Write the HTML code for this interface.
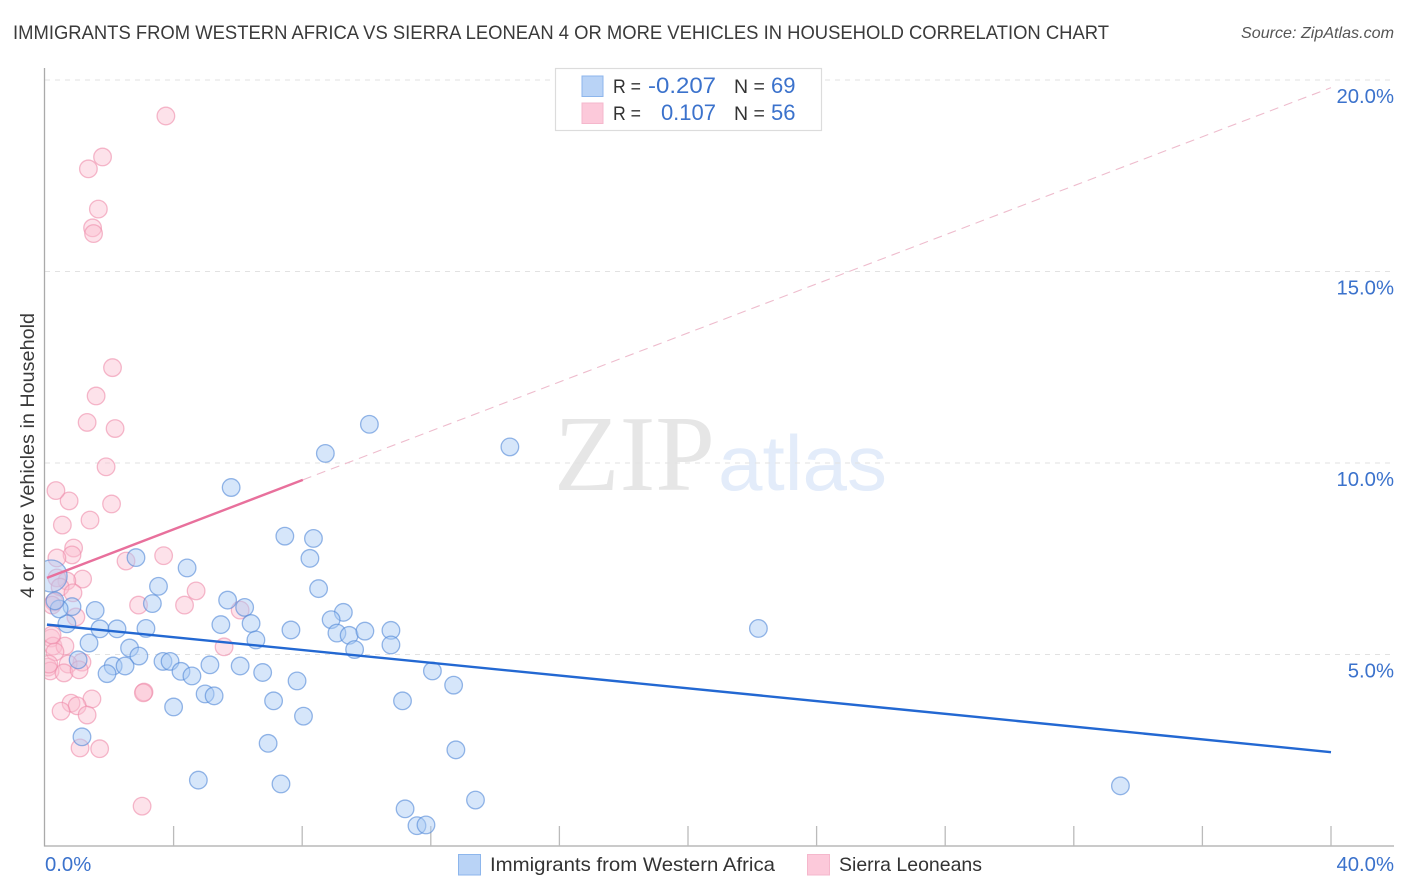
<!DOCTYPE html>
<html lang="en">
<head>
<meta charset="utf-8">
<title>Immigrants from Western Africa vs Sierra Leonean correlation chart</title>
<style>
html,body{margin:0;padding:0;background:#fff;}
svg{display:block;font-family:"Liberation Sans",sans-serif;}
</style>
</head>
<body>
<svg id="chart" xmlns="http://www.w3.org/2000/svg" width="1406" height="892" viewBox="0 0 1406 892">
  <defs>
    <clipPath id="plot-clip"><rect x="45" y="60" width="1349" height="786"/></clipPath>
  </defs>
  <rect x="0" y="0" width="1406" height="892" fill="#ffffff"/>
  <text x="13" y="39" font-size="19.6" fill="#3a3a3a" textLength="1096" lengthAdjust="spacingAndGlyphs">IMMIGRANTS FROM WESTERN AFRICA VS SIERRA LEONEAN 4 OR MORE VEHICLES IN HOUSEHOLD CORRELATION CHART</text>
  <text x="1241" y="38" font-size="16" font-style="italic" fill="#555" textLength="153" lengthAdjust="spacingAndGlyphs">Source: ZipAtlas.com</text>
  <g>
    <text x="554" y="490" font-family="'Liberation Serif',serif" font-size="108" fill="#e6e6e6" textLength="161" lengthAdjust="spacingAndGlyphs">ZIP</text>
    <text x="718" y="490" font-size="78" fill="#e3ecfa" textLength="169" lengthAdjust="spacingAndGlyphs">atlas</text>
  </g>
  <g id="grid"></g>
  <g id="axes"></g>
  <g id="marks" clip-path="url(#plot-clip)"></g>
  <g id="trends"></g>
  <g id="labels"></g>
  <text transform="translate(34,455.5) rotate(-90)" font-size="19.8" fill="#3a3a3a" text-anchor="middle" textLength="285" lengthAdjust="spacingAndGlyphs">4 or more Vehicles in Household</text>
  <g>
    <rect x="555.5" y="68.5" width="266" height="62" fill="#fff" stroke="#dcdcdc" stroke-width="1.2"/>
    <rect x="582" y="76" width="21" height="20.5" fill="#b9d3f6" stroke="#8db6ec" stroke-width="1"/>
    <rect x="582" y="103" width="21" height="20.5" fill="#fcc9da" stroke="#f5b7cc" stroke-width="1"/>
    <text x="613" y="93" font-size="19.5" fill="#333" textLength="28" lengthAdjust="spacingAndGlyphs">R =</text>
    <text x="648" y="93" font-size="22" fill="#3b72cc" textLength="68" lengthAdjust="spacingAndGlyphs">-0.207</text>
    <text x="734" y="93" font-size="19.5" fill="#333">N =</text>
    <text x="771" y="93" font-size="22" fill="#3b72cc">69</text>
    <text x="613" y="120" font-size="19.5" fill="#333" textLength="28" lengthAdjust="spacingAndGlyphs">R =</text>
    <text x="716" y="120" font-size="22" fill="#3b72cc" text-anchor="end">0.107</text>
    <text x="734" y="120" font-size="19.5" fill="#333">N =</text>
    <text x="771" y="120" font-size="22" fill="#3b72cc">56</text>
  </g>
  <g>
    <rect x="458.5" y="854.5" width="22" height="20.5" fill="#b9d3f6" stroke="#8db6ec" stroke-width="1"/>
    <text x="490" y="871" font-size="19.5" fill="#333" textLength="285" lengthAdjust="spacingAndGlyphs">Immigrants from Western Africa</text>
    <rect x="807.5" y="854.5" width="22" height="20.5" fill="#fcc9da" stroke="#f5b7cc" stroke-width="1"/>
    <text x="839" y="871" font-size="19.5" fill="#333" textLength="143" lengthAdjust="spacingAndGlyphs">Sierra Leoneans</text>
  </g>
</svg>
<script>
const blueX = [10.09,14.46,8.72,5.79,7.46,8.35,8.24,2.83,4.42,3.53,8.51,5.68,3.34,6.21,9.28,1.56,8.90,5.47,6.41,0.68,1.71,2.24,3.14,7.65,9.08,9.46,9.95,10.76,22.19,6.56,1.37,2.63,9.63,10.76,2.92,1.03,3.67,3.89,2.12,2.49,5.13,6.07,4.23,4.57,1.93,6.77,12.05,7.84,12.71,4.98,5.26,7.11,11.12,4.00,8.04,1.15,6.94,12.78,4.77,7.34,33.45,13.39,11.20,11.57,11.85,0.84,0.44,0.31];
const blueY = [11.01,10.42,10.25,9.36,8.09,8.03,7.51,7.53,7.26,6.78,6.72,6.42,6.33,6.23,6.10,6.15,5.91,5.78,5.81,5.80,5.67,5.67,5.68,5.64,5.56,5.50,5.61,5.63,5.68,5.38,5.30,5.17,5.13,5.25,4.96,4.86,4.82,4.82,4.70,4.70,4.73,4.70,4.56,4.44,4.50,4.53,4.57,4.31,4.20,3.97,3.92,3.79,3.79,3.63,3.39,2.85,2.68,2.51,1.72,1.62,1.57,1.20,0.97,0.53,0.55,6.25,6.19,6.40];
const blueLargeX = [0.19];
const blueLargeY = [7.05];
const pinkX = [3.76,1.79,1.35,1.66,1.48,1.51,2.10,1.59,1.31,2.18,1.90,0.75,0.34,2.07,1.40,0.54,0.89,0.84,0.37,3.69,2.52,1.17,0.68,0.37,0.47,0.87,4.70,2.91,4.34,6.07,0.28,0.22,0.96,5.57,0.19,0.25,0.62,0.31,0.09,0.16,1.15,0.72,0.59,1.06,3.08,3.06,1.46,0.81,1.00,0.50,1.31,1.09,1.70,3.02,0.12,0.22];
const pinkY = [19.06,17.99,17.68,16.63,16.14,15.99,12.49,11.75,11.06,10.90,9.90,9.01,9.28,8.93,8.51,8.38,7.78,7.60,7.52,7.58,7.44,6.97,6.92,7.00,6.76,6.61,6.66,6.29,6.29,6.16,6.37,6.29,5.98,5.20,5.43,5.22,5.22,5.07,4.67,4.57,4.80,4.75,4.52,4.60,4.02,4.00,3.84,3.73,3.66,3.52,3.42,2.56,2.54,1.04,4.75,5.51];
const blueTrendX = [0.06,40];
const blueTrendY = [5.78,2.45];
const pinkSolidX = [0.06,8.02];
const pinkSolidY = [7.0,9.56];
const pinkDashX = [8.02,40];
const pinkDashY = [9.56,19.8];
const yGridValues = [5,10,15,20];
const yTickLabels = ["5.0%","10.0%","15.0%","20.0%"];
const xTickValues = [4,8,12,16,20,24,28,32,36,40];
const xEndValues = [0,40];
const xEndLabels = ["0.0%","40.0%"];

const SVGNS = "http://www.w3.org/2000/svg";
function xScale(v){ return 45 + v * 32.15; }
function yScale(v){ return 846 - v * 38.3; }
function make(tag, parent, attrs){
  const el = document.createElementNS(SVGNS, tag);
  for (const k in attrs) el.setAttribute(k, attrs[k]);
  parent.appendChild(el);
  return el;
}
const grid = document.getElementById("grid");
const axes = document.getElementById("axes");
const marks = document.getElementById("marks");
const trends = document.getElementById("trends");
const labels = document.getElementById("labels");

yGridValues.forEach(function(v){
  const el = make("line", grid, {x1:45, x2:1394, y1:yScale(v), y2:yScale(v), stroke:"#e2e2e2", "stroke-width":1, "stroke-dasharray":"5 5"});
  
  
});

const yAxis = make("line", axes, {x1:44.5, x2:44.5, y1:68, y2:846.5, stroke:"#aaaaaa", "stroke-width":1.3});


const xAxis = make("line", axes, {x1:44, x2:1394, y1:846, y2:846, stroke:"#aaaaaa", "stroke-width":1.3});


xTickValues.forEach(function(v){
  const el = make("line", axes, {x1:xScale(v), x2:xScale(v), y1:826, y2:846, stroke:"#bbbbbb", "stroke-width":1.3});
  
  
});

function drawSeries(xs, ys, radius, fill, stroke, name){
  xs.forEach(function(x, i){
    const el = make("circle", marks, {cx:xScale(x), cy:yScale(ys[i]), r:radius, fill:fill, stroke:stroke, "stroke-width":1.3});
    
    
  });
}
drawSeries(pinkX, pinkY, 8.8, "rgba(250,190,208,0.45)", "rgba(238,140,170,0.6)", "sierra-leoneans-point");
drawSeries(blueLargeX, blueLargeY, 16, "rgba(170,202,245,0.48)", "rgba(80,135,215,0.6)", "western-africa-large-point");
drawSeries(blueX, blueY, 8.8, "rgba(170,202,245,0.48)", "rgba(80,135,215,0.6)", "western-africa-point");

const pinkDash = make("line", trends, {x1:xScale(pinkDashX[0]), y1:yScale(pinkDashY[0]), x2:xScale(pinkDashX[1]), y2:yScale(pinkDashY[1]), stroke:"#eebccd", "stroke-width":1.1, "stroke-dasharray":"9 6"});


const pinkSolid = make("line", trends, {x1:xScale(pinkSolidX[0]), y1:yScale(pinkSolidY[0]), x2:xScale(pinkSolidX[1]), y2:yScale(pinkSolidY[1]), stroke:"#e8709c", "stroke-width":2.4});


const blueTrend = make("line", trends, {x1:xScale(blueTrendX[0]), y1:yScale(blueTrendY[0]), x2:xScale(blueTrendX[1]), y2:yScale(blueTrendY[1]), stroke:"#2368d2", "stroke-width":2.4});



yGridValues.forEach(function(v, i){
  const el = make("text", labels, {x:1394, y:yScale(v) + 23, "font-size":20.3, fill:"#3b72cc", "text-anchor":"end"});
  el.textContent = yTickLabels[i];
  
  
});
xEndValues.forEach(function(v, i){
  const el = make("text", labels, {x: i === 0 ? xScale(v) : 1394, y:871, "font-size":20.3, fill:"#3b72cc", "text-anchor": i === 0 ? "start" : "end"});
  el.textContent = xEndLabels[i];
  
  
});
</script>
</body>
</html>
